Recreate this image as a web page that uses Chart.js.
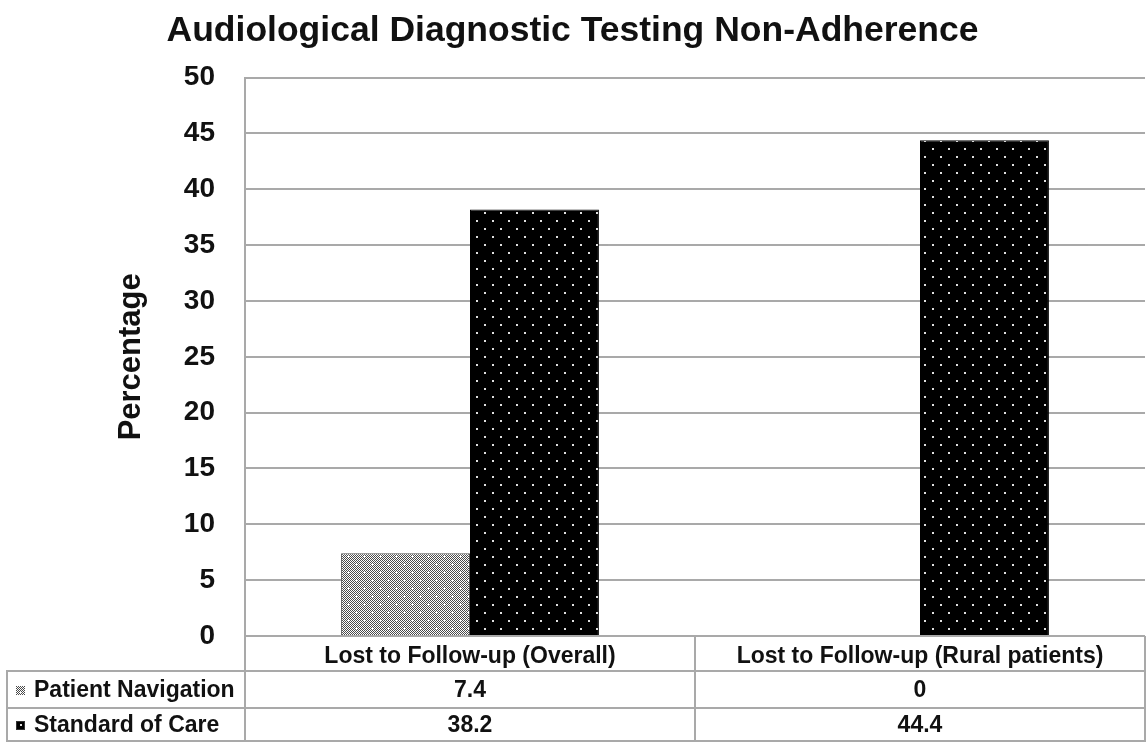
<!DOCTYPE html>
<html>
<head>
<meta charset="utf-8">
<script src="https://cdn.jsdelivr.net/npm/chart.js@4/dist/chart.umd.min.js"></script>
<style>
  html, body { margin: 0; padding: 0; background: #fff; }
  #wrap { width: 1146px; height: 745px; position: relative; }
</style>
</head>
<body>
<div id="wrap"><canvas id="c" width="1146" height="745"></canvas></div>
<script>
// ---- data ----
const titleText = 'Audiological Diagnostic Testing Non-Adherence';
const yAxisTitle = 'Percentage';
const categories = ['Lost to Follow-up (Overall)', 'Lost to Follow-up (Rural patients)'];
const seriesNames = ['Patient Navigation', 'Standard of Care'];
const patientNavigation = [7.4, 0];
const standardOfCare = [38.2, 44.4];
const yTicks = [0, 5, 10, 15, 20, 25, 30, 35, 40, 45, 50];

// ---- patterns ----
function makePattern(kind) {
  const t = document.createElement('canvas');
  t.width = 16; t.height = 16;
  const g = t.getContext('2d');
  if (kind === 'pn') {
    g.fillStyle = '#ffffff'; g.fillRect(0, 0, 16, 16);
    g.fillStyle = '#4a4a4a';
    for (let y = 0; y < 16; y++) for (let x = 0; x < 16; x++) if ((x + y) % 2 === 0) g.fillRect(x, y, 1, 1);
    g.fillStyle = '#ffffff';
    [[4, 4], [12, 12]].forEach(([cx, cy]) => {
      g.fillRect(cx - 1, cy, 3, 1); g.fillRect(cx, cy - 1, 1, 3);
    });
  } else {
    g.fillStyle = '#000000'; g.fillRect(0, 0, 16, 16);
    g.fillStyle = '#e0e0e0';
    [[4, 4], [12, 12]].forEach(([cx, cy]) => g.fillRect(cx, cy, 2, 2));
  }
  return document.getElementById('c').getContext('2d').createPattern(t, 'repeat');
}
const fills = [makePattern('pn'), makePattern('soc')];

const FONT = "'Liberation Sans', Arial, sans-serif";
const GRID = '#a9a9a9';

// ---- data table plugin ----
const tablePlugin = {
  id: 'dataTable',
  afterDraw(chart) {
    const ctx = chart.ctx;
    const ca = chart.chartArea;
    const xs = chart.scales.x;
    const half = (xs.getPixelForValue(1) - xs.getPixelForValue(0)) / 2;
    const top = ca.bottom;
    const r1 = 671, r2 = 708, bottom = 741;
    const leftEdge = 7;
    ctx.save();
    ctx.strokeStyle = GRID;
    ctx.lineWidth = 2;
    ctx.beginPath();
    ctx.moveTo(leftEdge, r1); ctx.lineTo(ca.right, r1);
    ctx.moveTo(leftEdge, r2); ctx.lineTo(ca.right, r2);
    ctx.moveTo(leftEdge, bottom); ctx.lineTo(ca.right, bottom);
    ctx.moveTo(leftEdge, r1 - 1); ctx.lineTo(leftEdge, bottom + 1);
    ctx.moveTo(ca.left, top); ctx.lineTo(ca.left, bottom + 1);
    categories.forEach((c, i) => {
      const xr = xs.getPixelForValue(i) + half;
      ctx.moveTo(xr, top); ctx.lineTo(xr, bottom + 1);
    });
    ctx.stroke();

    ctx.fillStyle = '#111';
    ctx.font = 'bold 23px ' + FONT;
    ctx.textBaseline = 'middle';
    ctx.textAlign = 'center';
    const rowMid = [657, 691, 726];
    categories.forEach((c, i) => ctx.fillText(c, xs.getPixelForValue(i), rowMid[0]));
    const series = [patientNavigation, standardOfCare];
    series.forEach((vals, s) => {
      vals.forEach((v, i) => ctx.fillText(String(v), xs.getPixelForValue(i), rowMid[s + 1]));
    });
    ctx.textAlign = 'left';
    seriesNames.forEach((n, s) => {
      const y = rowMid[s + 1];
      ctx.fillStyle = fills[s];
      ctx.fillRect(16, y - 5, 9, 9);
      ctx.strokeStyle = '#333'; ctx.lineWidth = 1;
      if (s === 1) ctx.strokeRect(16.5, y - 4.5, 8, 8);
      ctx.fillStyle = '#111';
      ctx.fillText(n, 34, y);
    });
    ctx.restore();
  }
};

new Chart(document.getElementById('c'), {
  type: 'bar',
  data: {
    labels: categories,
    datasets: [
      { label: seriesNames[0], data: patientNavigation, backgroundColor: fills[0], borderColor: '#555', borderWidth: 1 },
      { label: seriesNames[1], data: standardOfCare, backgroundColor: fills[1], borderColor: '#000', borderWidth: 1 }
    ]
  },
  options: {
    responsive: false,
    animation: false,
    layout: { padding: { left: 0, right: 1, top: 0, bottom: 0 } },
    datasets: { bar: { categoryPercentage: 0.573, barPercentage: 1.0 } },
    plugins: {
      legend: { display: false },
      tooltip: { enabled: false },
      title: {
        display: true,
        text: titleText,
        color: '#111',
        font: { family: FONT, size: 35.5, weight: 'bold' },
        padding: { top: 10, bottom: 25 }
      }
    },
    scales: {
      x: {
        display: true,
        ticks: { display: false },
        grid: { display: false },
        border: { display: false },
        afterFit(s) { s.height = 109; }
      },
      y: {
        min: 0, max: 50,
        afterBuildTicks(s) { s.ticks = yTicks.map(v => ({ value: v })); },
        ticks: {
          color: '#111',
          font: { family: FONT, size: 28, weight: 'bold' },
          padding: 30
        },
        grid: { color: GRID, lineWidth: 2, drawTicks: false, tickLength: 0 },
        border: { display: true, color: GRID, width: 2 },
        title: {
          display: true,
          text: yAxisTitle,
          color: '#111',
          font: { family: FONT, size: 31, weight: 'bold' },
          padding: { top: 113, bottom: 0 }
        },
        afterFit(s) { s.width = 245; }
      }
    }
  },
  plugins: [tablePlugin]
});
</script>
</body>
</html>
